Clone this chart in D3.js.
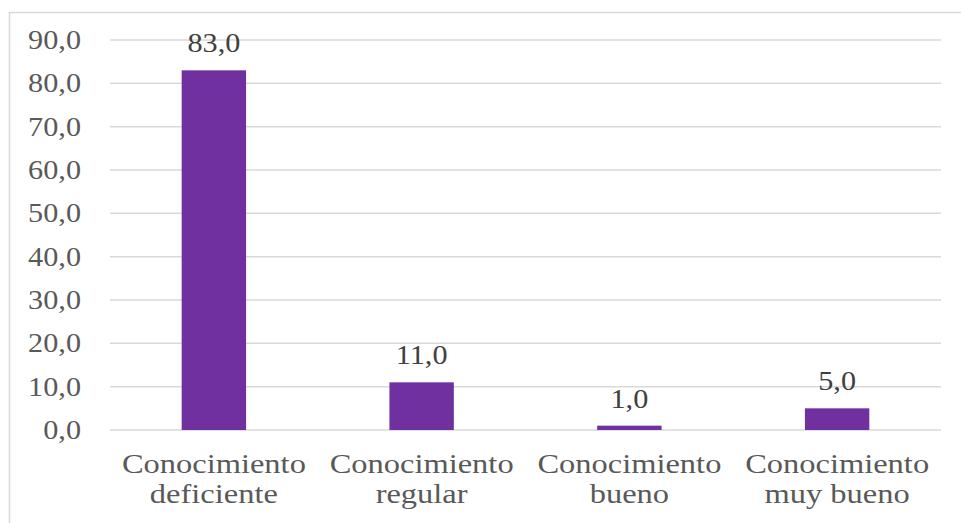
<!DOCTYPE html>
<html lang="es">
<head>
<meta charset="utf-8">
<title>Conocimiento</title>
<script src="https://cdn.jsdelivr.net/npm/d3@7"></script>
<style>
  body { margin: 0; background: #fff; }
</style>
</head>
<body>
<div class="chart"></div>
<script>
const categories = [
    ["Conocimiento", "deficiente"],
    ["Conocimiento", "regular"],
    ["Conocimiento", "bueno"],
    ["Conocimiento", "muy bueno"]
];
const values = [83.0, 11.0, 1.0, 5.0];
const yTicks = [0, 10, 20, 30, 40, 50, 60, 70, 80, 90];

const width = 961, height = 523;
const margin = {top: 40, right: 20, bottom: 93, left: 110};
const stretch = 1.12;  // text in the original looks widened
const serif = "'Liberation Serif', 'Times New Roman', 'DejaVu Serif', serif";

const fmt = v => v.toFixed(1).replace(".", ",");

svg = d3.select(".chart")
    .append("svg")
    .attr("width", width)
    .attr("height", height)
    .attr("font-family", serif);

// outer frame, cut off on the right and bottom
svg.append("rect")
    .attr("x", 9.5)
    .attr("y", 12.5)
    .attr("width", 1000)
    .attr("height", 600)
    .attr("fill", "none")
    .attr("stroke", "#d9d9d9")
    .attr("stroke-width", 1.5);

x = d3.scaleBand()
    .domain(d3.range(categories.length))
    .range([margin.left, width - margin.right])
    .paddingInner(0.69)
    .paddingOuter(0.345);

y = d3.scaleLinear()
    .domain([0, 90])
    .range([height - margin.bottom, margin.top]);

// gridlines
svg.append("g")
    .selectAll("line")
    .data(yTicks)
    .join("line")
    .attr("x1", margin.left)
    .attr("x2", width - margin.right)
    .attr("y1", d => y(d))
    .attr("y2", d => y(d))
    .attr("stroke", "#d9d9d9")
    .attr("stroke-width", 1.5);

// y tick labels
svg.append("g")
    .selectAll("text")
    .data(yTicks)
    .join("text")
    .attr("transform", d => `translate(81, ${y(d) + 9}) scale(${stretch}, 1)`)
    .attr("text-anchor", "end")
    .attr("font-family", serif)
    .attr("fill", "#595959")
    .attr("font-size", "27px")
    .text(d => fmt(d));

// bars
svg.append("g")
    .selectAll("rect")
    .data(values)
    .join("rect")
    .attr("x", (d, i) => x(i))
    .attr("y", d => y(d))
    .attr("width", x.bandwidth())
    .attr("height", d => y(0) - y(d))
    .attr("fill", "#7030a0");

// value labels
svg.append("g")
    .selectAll("text")
    .data(values)
    .join("text")
    .attr("transform", (d, i) => `translate(${x(i) + x.bandwidth() / 2}, ${y(d) - 18}) scale(${stretch}, 1)`)
    .attr("text-anchor", "middle")
    .attr("font-family", serif)
    .attr("fill", "#404040")
    .attr("font-size", "27px")
    .text(d => fmt(d));

// category labels (two lines)
cats = svg.append("g")
    .selectAll("g")
    .data(categories)
    .join("g")
    .attr("transform", (d, i) => `translate(${x(i) + x.bandwidth() / 2}, 0)`);

cats.selectAll("text")
    .data(d => d)
    .join("text")
    .attr("transform", (d, j) => `translate(0, ${473 + j * 30}) scale(1.16, 1)`)
    .attr("text-anchor", "middle")
    .attr("font-family", serif)
    .attr("fill", "#595959")
    .attr("font-size", "28px")
    .text(d => d);
</script>
</body>
</html>
